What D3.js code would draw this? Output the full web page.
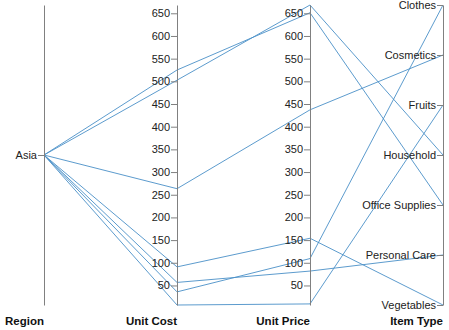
<!DOCTYPE html>
<html>
<head>
<meta charset="utf-8">
<script src="https://cdn.jsdelivr.net/npm/d3@7"></script>
<style>
  body { margin: 0; background: #fff; }
  svg { display: block; font-family: "Liberation Sans", Arial, sans-serif; }
</style>
</head>
<body>
<svg id="chart" width="449" height="330"></svg>
<script>
const dimensions = ["Region", "Unit Cost", "Unit Price", "Item Type"];
const regions = ["Asia", "Asia", "Asia", "Asia", "Asia", "Asia", "Asia"];
const itemTypes = ["Clothes", "Cosmetics", "Fruits", "Household", "Office Supplies", "Personal Care", "Vegetables"];
const unitCost = [35.84, 263.33, 6.92, 502.54, 524.96, 56.67, 90.93];
const unitPrice = [109.28, 437.20, 9.33, 668.27, 651.21, 81.73, 154.06];

(function () {
const data = itemTypes.map((t, i) => ({
  "Region": regions[i],
  "Unit Cost": unitCost[i],
  "Unit Price": unitPrice[i],
  "Item Type": t
}));

const svg = d3.select("#chart");
const yTop = 5, yBottom = 305;

const x = d3.scalePoint().domain(dimensions).range([44, 443]);

const numExtent = d3.extent(unitCost.concat(unitPrice));
const yNum = d3.scaleLinear().domain(numExtent).range([yBottom, yTop]);

const y = {
  "Region": d3.scalePoint().domain(Array.from(new Set(regions))).range([yBottom, yTop]),
  "Unit Cost": yNum,
  "Unit Price": yNum,
  "Item Type": d3.scalePoint().domain(itemTypes).range([yTop, yBottom])
};

const line = d3.line();
svg.append("g")
  .selectAll("path")
  .data(data)
  .join("path")
  .attr("d", d => line(dimensions.map(p => [x(p), y[p](d[p])])))
  .attr("fill", "none")
  .attr("stroke", "#4a90c8")
  .attr("stroke-width", 1)
  .attr("stroke-opacity", 0.9);

const axisG = svg.append("g")
  .selectAll("g")
  .data(dimensions)
  .join("g")
  .attr("transform", d => `translate(${x(d)},0)`);

axisG.each(function(d) {
  const g = d3.select(this);
  const ax = d3.axisLeft(y[d]).tickSizeOuter(0).tickPadding(1);
  if (d === "Unit Cost" || d === "Unit Price") ax.tickValues(d3.range(50, 651, 50));
  g.call(ax);
  g.selectAll(".domain, .tick line").attr("stroke", "#808080");
  g.selectAll(".tick text").attr("fill", "#222").style("font-size", "11px")
    .attr("font-family", "'Liberation Sans', Arial, sans-serif");
});

axisG.append("text")
  .attr("x", 0)
  .attr("y", 325)
  .attr("text-anchor", "end")
  .attr("fill", "#111")
  .style("font-size", "11.5px")
  .style("font-weight", "bold")
  .text(d => d);
})();
</script>
</body>
</html>
